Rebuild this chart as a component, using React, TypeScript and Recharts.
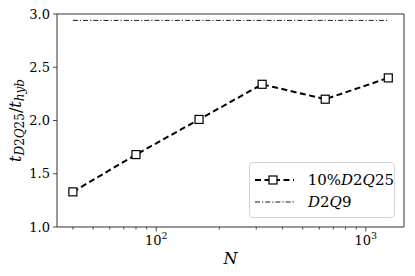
import React from 'react'
import { LineChart, Line, XAxis, YAxis, ReferenceArea } from 'recharts'

// grid sizes and runtime ratios
const nValues = [40, 80, 160, 320, 640, 1280]
const ratioD2Q25 = [1.33, 1.68, 2.01, 2.34, 2.2, 2.4]
const ratioD2Q9 = [2.94, 2.94, 2.94, 2.94, 2.94, 2.94]

const xTicks = [40, 50, 60, 70, 80, 90, 100, 200, 300, 400, 500, 600, 700, 800, 900, 1000]
const xMajor = [100, 1000]
const yTicks = [1.0, 1.5, 2.0, 2.5, 3.0]
const xDomain = [33.6, 1521]
const yDomain = [1, 3]

const FONT = "'DejaVu Serif', 'Liberation Serif', serif"

const data = nValues.map((n, i) => ({ n, d2q25: ratioD2Q25[i], d2q9: ratioD2Q9[i] }))

const XTick = (props: any) => {
  const { x, y, payload } = props
  const major = xMajor.includes(payload.value)
  return (
    <g>
      <line x1={x} x2={x} y1={y} y2={y + (major ? 4.5 : 2.5)} stroke="#222" strokeWidth={0.8} />
      {major && (
        <text x={x} y={y + 18} textAnchor="middle" fontFamily={FONT} fontSize={13} fill="#000">
          10
          <tspan dy={-6} fontSize={9.5}>{Math.round(Math.log10(payload.value))}</tspan>
        </text>
      )}
    </g>
  )
}

const SquareDot = (props: any) => {
  const { cx, cy, index } = props
  return <rect key={`sq-${index}`} x={cx - 4} y={cy - 4} width={8} height={8} fill="#fff" stroke="#000" strokeWidth={1.2} />
}

const YLabel = (props: any) => {
  const vb = props.viewBox || { x: 12, y: 14, height: 213 }
  const cx = 16
  const cy = vb.y + vb.height / 2
  return (
    <text
      x={cx}
      y={cy}
      transform={`rotate(-90 ${cx} ${cy})`}
      textAnchor="middle"
      dominantBaseline="middle"
      fontFamily={FONT}
      fontSize={16}
      fill="#000"
    >
      <tspan fontStyle="italic">t</tspan>
      <tspan fontSize={12} dy={4}>
        <tspan fontStyle="italic">D</tspan>2<tspan fontStyle="italic">Q</tspan>25
      </tspan>
      <tspan dy={-4}>/</tspan>
      <tspan fontStyle="italic">t</tspan>
      <tspan fontSize={12} dy={4} fontStyle="italic">hyb</tspan>
    </text>
  )
}

const XLabel = (props: any) => {
  const vb = props.viewBox || { x: 57, y: 227, width: 347 }
  return (
    <text x={vb.x + vb.width / 2} y={264} textAnchor="middle" fontFamily={FONT} fontSize={16} fontStyle="italic" fill="#000">
      N
    </text>
  )
}

const LegendBox = () => (
  <div
    style={{
      position: 'absolute',
      left: 249,
      top: 162,
      border: '1px solid #d4d4d4',
      borderRadius: 4,
      background: 'rgba(255,255,255,0.8)',
      width: 146,
      height: 56,
      boxSizing: 'border-box',
      padding: '6px 0 0 4px',
      fontFamily: FONT,
      fontSize: 15,
      color: '#000',
      lineHeight: '22px',
    }}
  >
    <div style={{ display: 'flex', alignItems: 'center', height: 22 }}>
      <svg width={44} height={14} style={{ marginRight: 10 }}>
        <line x1={1} x2={40} y1={7} y2={7} stroke="#000" strokeWidth={2} strokeDasharray="6 3.5" />
        <rect x={15} y={3} width={8} height={8} fill="#fff" stroke="#000" strokeWidth={1.2} />
      </svg>
      <span>
        10%<i>D</i>2<i>Q</i>25
      </span>
    </div>
    <div style={{ display: 'flex', alignItems: 'center', height: 22 }}>
      <svg width={44} height={14} style={{ marginRight: 10 }}>
        <line x1={1} x2={40} y1={7} y2={7} stroke="#000" strokeWidth={0.9} strokeDasharray="5 2 1.2 2" />
      </svg>
      <span>
        <i>D</i>2<i>Q</i>9
      </span>
    </div>
  </div>
)

export default function App() {
  return (
    <div style={{ position: 'absolute', left: 0, top: 0, width: 415, height: 276, background: '#fff' }}>
      <LineChart width={415} height={276} data={data} margin={{ top: 14, right: 11, bottom: 19, left: 12 }}>
        <XAxis
          dataKey="n"
          type="number"
          scale="log"
          domain={xDomain}
          allowDataOverflow
          ticks={xTicks}
          interval={0}
          tickSize={0}
          tickMargin={0}
          tickLine={false}
          axisLine={false}
          tick={<XTick />}
          height={30}
          label={<XLabel />}
        />
        <YAxis
          type="number"
          domain={yDomain}
          ticks={yTicks}
          interval={0}
          width={45}
          tickSize={4}
          tickMargin={3}
          axisLine={false}
          tickLine={{ stroke: '#222', strokeWidth: 0.8 }}
          tickFormatter={(v: number) => v.toFixed(1)}
          tick={{ fontFamily: FONT, fontSize: 13, fill: '#000' }}
          label={<YLabel />}
        />
        <ReferenceArea
          x1={xDomain[0]}
          x2={xDomain[1]}
          y1={yDomain[0]}
          y2={yDomain[1]}
          fill="none"
          fillOpacity={0}
          stroke="#333"
          strokeWidth={1}
        />
        <Line
          dataKey="d2q9"
          stroke="#000"
          strokeWidth={0.9}
          strokeDasharray="5 2 1.2 2"
          dot={false}
          activeDot={false}
          isAnimationActive={false}
        />
        <Line
          dataKey="d2q25"
          stroke="#000"
          strokeWidth={2}
          strokeDasharray="6 3.5"
          dot={<SquareDot />}
          activeDot={false}
          isAnimationActive={false}
        />
      </LineChart>
      <LegendBox />
    </div>
  )
}
